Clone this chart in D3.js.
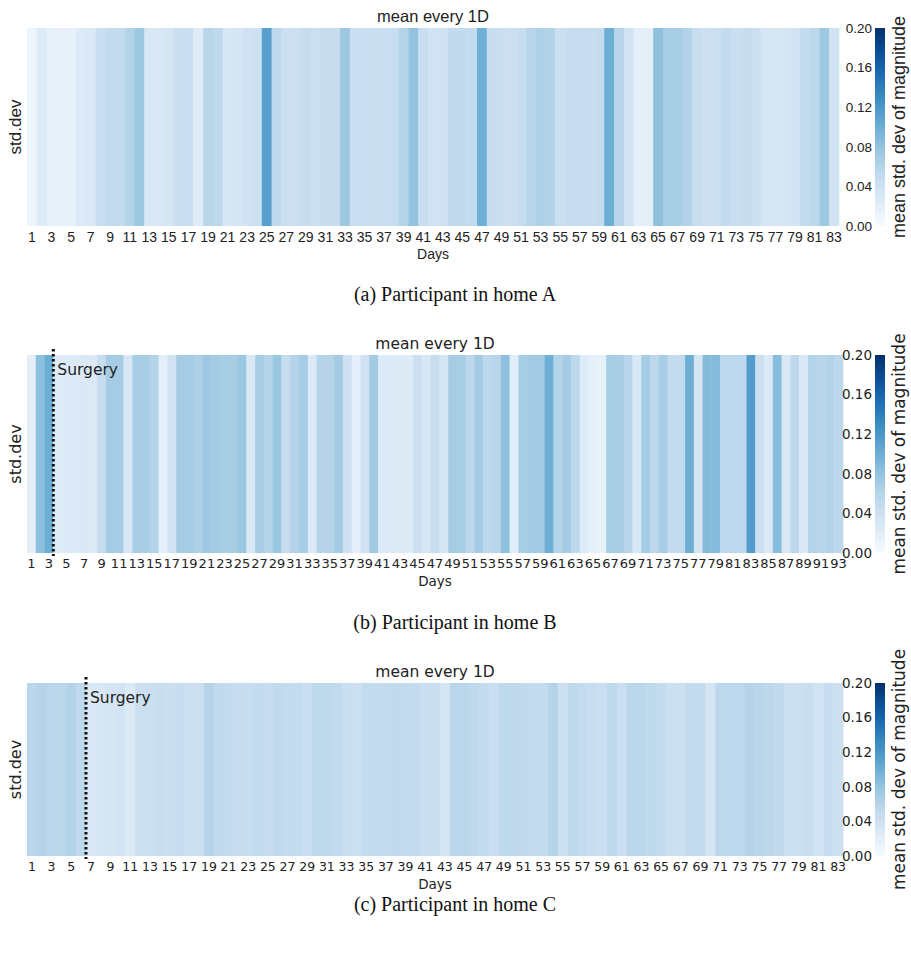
<!DOCTYPE html>
<html>
<head>
<meta charset="utf-8">
<script src="https://cdn.jsdelivr.net/npm/d3@7"></script>
<style>
  body { margin: 0; background: #fff; }
  svg { display: block; }
</style>
</head>
<body>
<svg id="chart" width="911" height="954"></svg>
<script>
// ---------- DATA ----------
const daysA = d3.range(1, 84);
const valuesA = [
  0.010, 0.026, 0.016, 0.016, 0.016, 0.026, 0.028, 0.045, 0.050, 0.050,
  0.062, 0.075, 0.030, 0.032, 0.035, 0.045, 0.045, 0.024, 0.058, 0.054,
  0.032, 0.034, 0.040, 0.042, 0.112, 0.055, 0.043, 0.043, 0.047, 0.043,
  0.048, 0.047, 0.075, 0.045, 0.045, 0.045, 0.045, 0.046, 0.062, 0.080,
  0.045, 0.038, 0.038, 0.052, 0.052, 0.050, 0.098, 0.046, 0.043, 0.043,
  0.047, 0.058, 0.064, 0.062, 0.043, 0.048, 0.047, 0.047, 0.049, 0.100,
  0.058, 0.038, 0.018, 0.018, 0.082, 0.068, 0.068, 0.063, 0.047, 0.042,
  0.044, 0.050, 0.045, 0.048, 0.043, 0.033, 0.033, 0.034, 0.037, 0.049,
  0.056, 0.075, 0.038
];
const daysB = d3.range(1, 94);
const valuesB = [
  0.020, 0.083, 0.100, 0.025, 0.026, 0.026, 0.028, 0.028, 0.048, 0.070,
  0.070, 0.031, 0.068, 0.068, 0.062, 0.018, 0.038, 0.070, 0.070, 0.066,
  0.075, 0.071, 0.068, 0.068, 0.076, 0.030, 0.068, 0.060, 0.076, 0.048,
  0.062, 0.070, 0.028, 0.060, 0.060, 0.071, 0.040, 0.018, 0.040, 0.072,
  0.026, 0.026, 0.027, 0.026, 0.043, 0.032, 0.048, 0.034, 0.070, 0.068,
  0.055, 0.070, 0.055, 0.058, 0.082, 0.022, 0.068, 0.071, 0.071, 0.100,
  0.062, 0.070, 0.055, 0.026, 0.018, 0.016, 0.068, 0.068, 0.058, 0.030,
  0.070, 0.055, 0.068, 0.050, 0.050, 0.100, 0.034, 0.088, 0.088, 0.055,
  0.055, 0.055, 0.115, 0.043, 0.028, 0.086, 0.032, 0.055, 0.028, 0.062,
  0.058, 0.062, 0.055
];
const daysC = d3.range(1, 84);
const valuesC = [
  0.056, 0.060, 0.056, 0.057, 0.062, 0.054, 0.028, 0.032, 0.034, 0.037,
  0.027, 0.044, 0.044, 0.046, 0.044, 0.046, 0.044, 0.044, 0.060, 0.052,
  0.050, 0.046, 0.048, 0.050, 0.046, 0.053, 0.050, 0.050, 0.045, 0.054,
  0.054, 0.052, 0.045, 0.042, 0.050, 0.050, 0.050, 0.052, 0.050, 0.050,
  0.045, 0.045, 0.035, 0.057, 0.057, 0.054, 0.050, 0.045, 0.054, 0.054,
  0.052, 0.050, 0.050, 0.060, 0.042, 0.054, 0.050, 0.047, 0.045, 0.054,
  0.045, 0.056, 0.056, 0.054, 0.050, 0.042, 0.042, 0.050, 0.050, 0.035,
  0.055, 0.055, 0.055, 0.060, 0.057, 0.055, 0.052, 0.042, 0.042, 0.045,
  0.038, 0.046, 0.042
];
const surgeryDayB = 3;
const surgeryDayC = 6;
const colorTicks = [0.00, 0.04, 0.08, 0.12, 0.16, 0.20];
const titleText = "mean every 1D";
const yLabelText = "std.dev";
const xLabelText = "Days";
const cbarLabelText = "mean std. dev of magnitude";
const captions = ["(a) Participant in home A", "(b) Participant in home B", "(c) Participant in home C"];

// ---------- DRAW ----------
const svg = d3.select("#chart");
const color = d3.scaleSequential(d3.interpolateBlues).domain([0, 0.2]);

const defs = svg.append("defs");
const grad = defs.append("linearGradient").attr("id", "cbgrad")
  .attr("x1", 0).attr("y1", 1).attr("x2", 0).attr("y2", 0);
d3.range(0, 1.0001, 0.05).forEach(t => {
  grad.append("stop").attr("offset", t).attr("stop-color", d3.interpolateBlues(t));
});

const panels = [
  { days: daysA, values: valuesA, x0: 27, x1: 839, top: 28, bottom: 226, font: "Liberation Sans, Arial, sans-serif",
    surgery: null, tickSize: 14, titleSize: 16.5, labelSize: 17, daysSize: 14, cbSize: 18,
    caption: captions[0], capY: 301 },
  { days: daysB, values: valuesB, x0: 27, x1: 843, top: 355, bottom: 553, font: "DejaVu Sans, sans-serif",
    surgery: surgeryDayB, tickSize: 13, titleSize: 15.5, labelSize: 16, daysSize: 13.5, cbSize: 17,
    caption: captions[1], capY: 629 },
  { days: daysC, values: valuesC, x0: 27, x1: 843, top: 683, bottom: 856, font: "DejaVu Sans, sans-serif",
    surgery: surgeryDayC, tickSize: 12.5, titleSize: 15.5, labelSize: 16, daysSize: 13.5, cbSize: 17,
    caption: captions[2], capY: 911 }
];

panels.forEach(p => {
  const g = svg.append("g");
  const x = d3.scaleBand().domain(p.days).range([p.x0, p.x1]).padding(0);
  const cells = p.days.map((d, i) => ({ day: d, v: p.values[i] }));

  g.selectAll("rect.cell").data(cells).enter().append("rect")
    .attr("class", "cell")
    .attr("x", d => x(d.day))
    .attr("y", p.top)
    .attr("width", x.bandwidth() + 0.4)
    .attr("height", p.bottom - p.top)
    .attr("fill", d => color(d.v));

  // x axis
  const ax = d3.axisBottom(x)
    .tickValues(p.days.filter(d => d % 2 === 1))
    .tickSize(0).tickPadding(6);
  const axG = g.append("g").attr("transform", `translate(0,${p.bottom})`).call(ax);
  axG.select(".domain").remove();
  axG.selectAll("text").attr("font-family", p.font).attr("font-size", p.tickSize).attr("fill", "#222");

  // title
  g.append("text").attr("x", (p.x0 + p.x1) / 2).attr("y", p.top - 6)
    .attr("text-anchor", "middle").attr("font-family", p.font).attr("font-size", p.titleSize).attr("fill", "#222")
    .text(titleText);

  // x label
  g.append("text").attr("x", (p.x0 + p.x1) / 2).attr("y", p.bottom + 33)
    .attr("text-anchor", "middle").attr("font-family", p.font).attr("font-size", p.daysSize).attr("fill", "#222")
    .text(xLabelText);

  // y label
  const mid = (p.top + p.bottom) / 2;
  g.append("text").attr("transform", `translate(21,${mid}) rotate(-90)`)
    .attr("text-anchor", "middle").attr("font-family", p.font).attr("font-size", p.labelSize).attr("fill", "#222")
    .text(yLabelText);

  // colorbar
  const cy = d3.scaleLinear().domain([0, 0.2]).range([p.bottom, p.top]);
  g.append("rect").attr("x", 875).attr("y", p.top).attr("width", 10).attr("height", p.bottom - p.top)
    .attr("fill", "url(#cbgrad)");
  const cax = d3.axisLeft(cy).tickValues(colorTicks).tickFormat(d3.format(".2f")).tickSize(0).tickPadding(3);
  const caxG = g.append("g").attr("transform", "translate(875,0)").call(cax);
  caxG.select(".domain").remove();
  caxG.selectAll("text").attr("font-family", p.font).attr("font-size", 13.5).attr("fill", "#222");

  g.append("text").attr("transform", `translate(905,${mid}) rotate(-90)`)
    .attr("text-anchor", "middle").attr("font-family", p.font).attr("font-size", p.cbSize).attr("fill", "#222")
    .text(cbarLabelText);

  // surgery marker
  if (p.surgery !== null) {
    const sx = x(p.surgery) + x.bandwidth();
    g.append("line").attr("x1", sx).attr("x2", sx).attr("y1", p.top - 6).attr("y2", p.bottom + 3)
      .attr("stroke", "#111").attr("stroke-width", 3).attr("stroke-dasharray", "2.5,2.5");
    g.append("text").attr("x", sx + 4).attr("y", p.top + 20)
      .attr("font-family", p.font).attr("font-size", 15.5).attr("fill", "#222").text("Surgery");
  }

  // caption
  svg.append("text").attr("x", 455).attr("y", p.capY).attr("text-anchor", "middle")
    .attr("font-family", "Liberation Serif, Times New Roman, serif").attr("font-size", 20).attr("fill", "#111")
    .text(p.caption);
});
</script>
</body>
</html>
